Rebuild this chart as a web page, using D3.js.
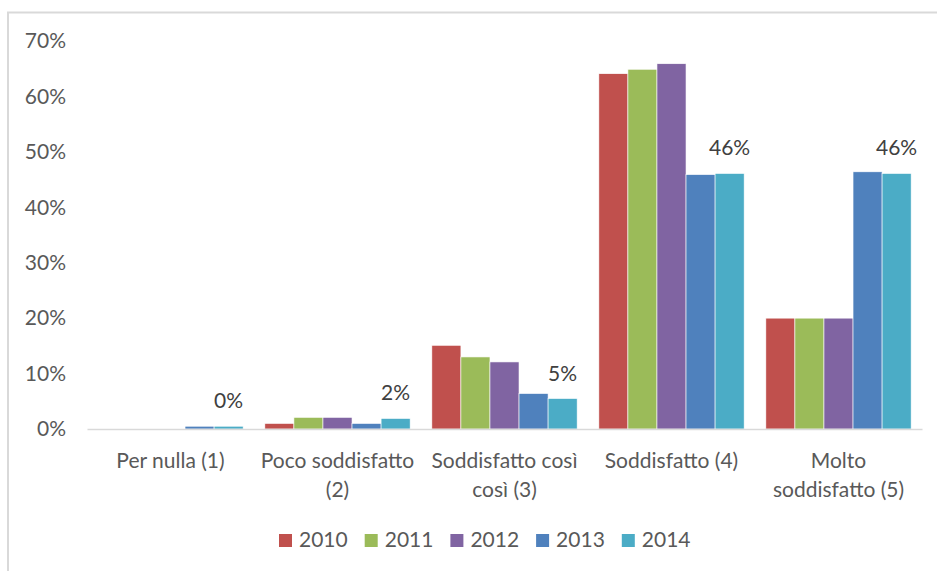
<!DOCTYPE html>
<html>
<head>
<meta charset="utf-8">
<script src="https://cdn.jsdelivr.net/npm/d3@7"></script>
<style>
  html, body { margin: 0; padding: 0; background: #fff; }
  svg { display: block; }
  text { font-family: Lato, "Open Sans", sans-serif; }
</style>
</head>
<body>
<svg id="chart" width="937" height="571"></svg>
<script>
const categories = ["Per nulla (1)", "Poco soddisfatto\n(2)", "Soddisfatto così\ncosì (3)", "Soddisfatto (4)", "Molto\nsoddisfatto (5)"];
const years = ["2010", "2011", "2012", "2013", "2014"];
const colors = ["#C0504D", "#9BBB59", "#8064A2", "#4F81BD", "#4BACC6"];
const v2010 = [0.000, 0.010, 0.151, 0.641, 0.200];
const v2011 = [0.000, 0.021, 0.130, 0.649, 0.200];
const v2012 = [0.000, 0.021, 0.121, 0.659, 0.200];
const v2013 = [0.005, 0.010, 0.064, 0.459, 0.464];
const v2014 = [0.005, 0.019, 0.055, 0.461, 0.461];
const labels2014 = ["0%", "2%", "5%", "46%", "46%"];
const yTicks = [0, 0.1, 0.2, 0.3, 0.4, 0.5, 0.6, 0.7];

const seriesValues = [v2010, v2011, v2012, v2013, v2014];
const svg = d3.select("#chart");

// outer chart border (extends beyond right/bottom of view)
svg.append("rect").attr("x", 8).attr("y", 12.5).attr("width", 1000).attr("height", 700)
  .attr("fill", "none").attr("stroke", "#d9d9d9").attr("stroke-width", 2);

const x0 = d3.scaleBand().domain(categories).range([87, 922]).paddingInner(0.13).paddingOuter(0.065);
const x1 = d3.scaleBand().domain(years).range([0, x0.bandwidth()]).padding(0);
const y = d3.scaleLinear().domain([0, 0.7]).range([429, 41]);

// y axis labels
const yAxis = d3.axisLeft(y).tickValues(yTicks).tickFormat(d3.format(".0%")).tickSize(0).tickPadding(0);
const ya = svg.append("g").attr("transform", "translate(66,0)").call(yAxis);
ya.select(".domain").remove();
ya.selectAll("text").attr("font-size", 21).attr("fill", "#595959").attr("font-family", "Lato, 'Open Sans', sans-serif");

// bars
const groups = svg.append("g").selectAll("g").data(categories).join("g")
  .attr("transform", d => `translate(${x0(d)},0)`);
groups.selectAll("rect").data((c, ci) => years.map((yr, si) => ({ yr, si, v: seriesValues[si][ci] })))
  .join("rect")
  .attr("x", d => x1(d.yr))
  .attr("width", x1.bandwidth())
  .attr("y", d => y(d.v))
  .attr("height", d => y(0) - y(d.v))
  .attr("fill", d => colors[d.si])
  .attr("stroke", "#fff").attr("stroke-width", 0.6);

// baseline
const xAxis = d3.axisBottom(x0).tickSize(0).tickFormat("");
const xa = svg.append("g").attr("transform", `translate(0,${y(0)})`).call(xAxis);
xa.select(".domain").attr("stroke", "#d9d9d9").attr("stroke-width", 1.3);

// category labels (wrapped)
categories.forEach(c => {
  const lines = c.split("\n");
  const t = svg.append("text").attr("text-anchor", "middle").attr("font-size", 21).attr("fill", "#595959");
  lines.forEach((ln, i) => {
    t.append("tspan").attr("x", x0(c) + x0.bandwidth() / 2).attr("y", 468 + i * 29).text(ln);
  });
});

// data labels for 2014
svg.append("g").selectAll("text").data(categories).join("text")
  .attr("x", c => x0(c) + x1("2014") + x1.bandwidth() / 2)
  .attr("y", (c, i) => y(v2014[i]) - 18)
  .attr("text-anchor", "middle").attr("font-size", 21).attr("fill", "#404040")
  .text((c, i) => labels2014[i]);

// legend
const leg = svg.append("g").selectAll("g").data(years).join("g")
  .attr("transform", (d, i) => `translate(${279 + i * 85.7},534)`);
leg.append("rect").attr("width", 13).attr("height", 13).attr("fill", (d, i) => colors[i]);
leg.append("text").attr("x", 20).attr("y", 12.5).attr("font-size", 21).attr("fill", "#595959").text(d => d);
</script>
</body>
</html>
